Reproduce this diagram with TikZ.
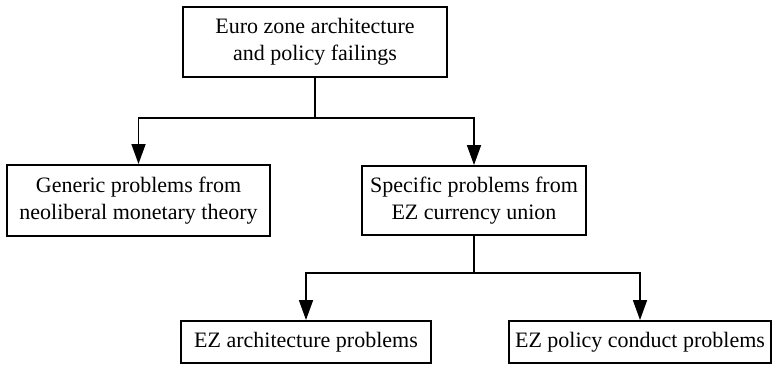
\documentclass[tikz,border=0pt]{standalone}
\usepackage{fontspec}
\setmainfont{Liberation Serif}
\usepackage{tikz}
\usetikzlibrary{arrows.meta}

\begin{document}
\begin{tikzpicture}[x=0.5pt,y=-0.5pt,
    box/.style={draw,line width=1pt,inner sep=0pt,align=center,font=\fontsize{11}{13.5}\selectfont},
    arr/.style={-{Triangle[length=10pt,width=7pt]},line width=0.9pt}]

    \useasboundingbox (0,0) rectangle (775,365);

    % Draw the boxes
    \node[box,minimum width=132pt,minimum height=35pt] (failings) at (315,42) {Euro zone architecture\\and policy failings};
    \node[box,minimum width=131.5pt,minimum height=35.5pt] (generic) at (138.5,200.5) {Generic problems from\\neoliberal monetary theory};
    \node[box,minimum width=112pt,minimum height=34.5pt] (specific) at (474,200.5) {Specific problems from\\EZ currency union};
    \node[box,minimum width=125pt,minimum height=21pt] (archprob) at (306,342) {EZ architecture problems};
    \node[box,minimum width=131pt,minimum height=21pt] (conduct) at (640,342) {EZ policy conduct problems};

    % Split points
    \coordinate (split1) at (315,118);
    \coordinate (split2) at (474,273);

    % Draw the arrows
    \draw[line width=0.9pt] (failings.south) -- (split1);
    \draw[arr] (split1) -| (generic.north);
    \draw[arr] (split1) -| (specific.north);

    \draw[line width=0.9pt] (specific.south) -- (split2);
    \draw[arr] (split2) -| (archprob.north);
    \draw[arr] (split2) -| (conduct.north);
\end{tikzpicture}
\end{document}
